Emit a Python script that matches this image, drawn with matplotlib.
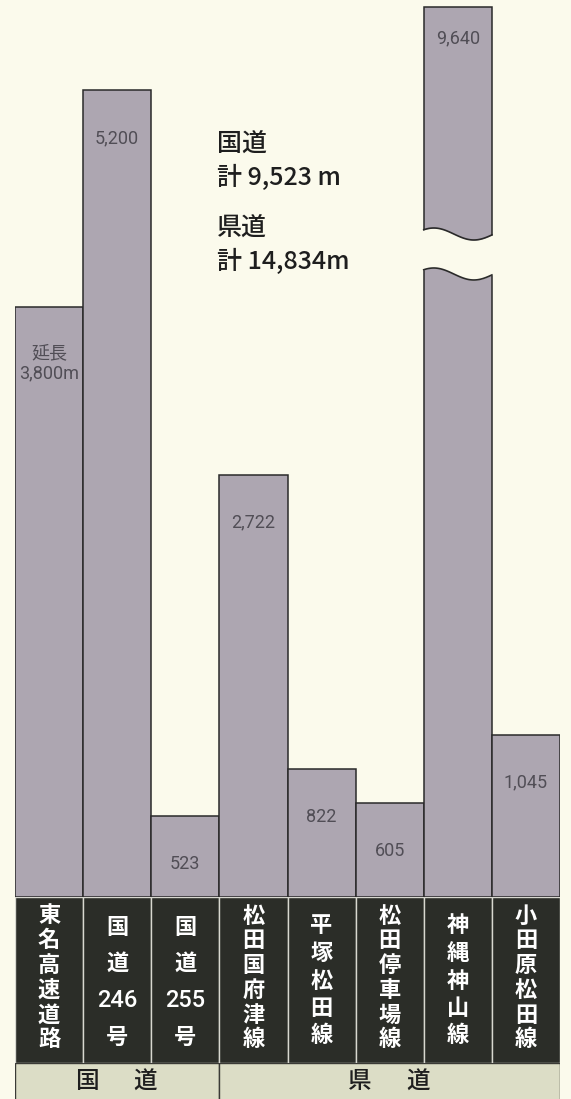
import numpy as np
import matplotlib
matplotlib.use("Agg")
import matplotlib.pyplot as plt

plt.rcParams['font.family'] = ['Noto Sans CJK JP', 'DejaVu Sans']

# data (metres)
roads = ['東名高速道路', '国道246号', '国道255号', '松田国府津線',
         '平塚松田線', '松田停車場線', '神縄神山線', '小田原松田線']
label_tokens = [list('東名高速道路'), ['国', '道', '246', '号'], ['国', '道', '255', '号'],
                list('松田国府津線'), list('平塚松田線'), list('松田停車場線'),
                list('神縄神山線'), list('小田原松田線')]
lengths = [3800, 5200, 523, 2722, 822, 605, 9640, 1045]
value_labels = ['延長\n3,800m', '5,200', '523', '2,722', '822', '605', '9,640', '1,045']
groups = [['国', '道'], ['県', '道']]
group_sizes = [3, 5]
totals = [('国道', '計 9,523 m'), ('県道', '計 14,834m')]

BG = '#FBFAEC'
BAR = '#ADA6B1'
DARK = '#2B2D28'
BAND = '#DCDDC6'

W, H = 571, 1099
fig = plt.figure(figsize=(W / 100, H / 100), dpi=100)
fig.patch.set_facecolor(BG)

x0, x1 = 15, 560
def rect(top, bottom):
    return [x0 / W, 1 - bottom / H, (x1 - x0) / W, (bottom - top) / H]

n = len(lengths)
xs = np.arange(n)
ytop = 5780

# bars
ax = fig.add_axes(rect(0, 897))
ax.set_facecolor('none')
ax.set_xlim(-0.5, n - 0.5)
ax.set_ylim(0, ytop)
ax.axis('off')
shown = np.minimum(lengths, ytop * 0.992)
ax.bar(xs, shown, width=1.0, color=BAR, edgecolor='#2a2a2a', linewidth=1.1)

num_font = ['Roboto', 'Noto Sans CJK JP', 'DejaVu Sans']
for i, (v, s, lab) in enumerate(zip(lengths, shown, value_labels)):
    off = -31 if v > s else -48
    if '\n' in lab:
        off = -56
    ax.annotate(lab, (i, s), xytext=(0, off * 0.72), textcoords='offset points',
                ha='center', va='center', fontsize=13, color='#514e56',
                linespacing=1.1, family=num_font)

# break mark on the clipped bar
trans = ax.get_xaxis_transform()
for i, (v, s) in enumerate(zip(lengths, shown)):
    if v <= s:
        continue
    t = np.linspace(0, 1, 60)
    xx = i - 0.5 + t
    amp = 6 / 897
    wave = amp * np.sin(np.pi * (1.7 * t + 0.25))
    upper = (897 - 234) / 897 + wave
    lower = (897 - 274) / 897 + wave
    ax.fill_between(np.r_[i - 0.52, xx, i + 0.52], np.r_[lower[0], lower, lower[-1]],
                    np.r_[upper[0], upper, upper[-1]],
                    transform=trans, color=BG, zorder=3, linewidth=0)
    ax.plot(xx, upper, transform=trans, color='#2a2a2a', lw=1.2, zorder=4)
    ax.plot(xx, lower, transform=trans, color='#2a2a2a', lw=1.2, zorder=4)

# totals text
tx = 217 / W
for k, (head, total) in enumerate(totals):
    base = 144 + k * 84
    fig.text(tx, 1 - base / H, head, fontsize=18, color='#1e1e1e',
             ha='left', va='center', fontweight='medium')
    fig.text(tx, 1 - (base + 34) / H, total, fontsize=18, color='#1e1e1e',
             ha='left', va='center', fontweight='medium')

# road name row
ax2 = fig.add_axes(rect(897, 1063))
ax2.set_xlim(-0.5, n - 0.5)
ax2.set_ylim(0, 1)
ax2.axis('off')
ax2.bar(xs, [1] * n, width=1.0, bottom=0, color=DARK, edgecolor='#d8d8d0', linewidth=1.0)
for i, toks in enumerate(label_tokens):
    m = len(toks)
    first, last = (916, 1040) if m >= 6 else ((926, 1036) if m == 5 else (927, 1037))
    ys = np.linspace(first, last, m)
    for tok, yp in zip(toks, ys):
        digit = tok.isdigit()
        ax2.text(i, (1063 - yp) / 166, tok, ha='center', va='center', color='white',
                 fontsize=17 if digit else 16, fontweight='medium' if digit else 'bold',
                 family=['Roboto', 'Noto Sans CJK JP'] if digit
                 else ['Noto Sans CJK JP', 'DejaVu Sans'])

# group row
ax3 = fig.add_axes(rect(1063, 1104))
ax3.set_xlim(-0.5, n - 0.5)
ax3.set_ylim(0, 1)
ax3.axis('off')
starts = np.cumsum([0] + group_sizes[:-1]) - 0.5
ax3.bar(starts, [1] * len(groups), width=group_sizes, align='edge', color=BAND,
        edgecolor='#3a3a36', linewidth=1.0)
step = 1 / ((x1 - x0) / n)  # one pixel in data units
for st, size, chars in zip(starts, group_sizes, groups):
    c = st + size / 2
    for ch, dx in zip(chars, (-30, 28)):
        ax3.text(c + dx * step, 1 - 19 / 41, ch, ha='center', va='center',
                 fontsize=17, color='#1e1e1e', fontweight='medium')

fig.savefig('out.png', dpi=100, facecolor=BG)
